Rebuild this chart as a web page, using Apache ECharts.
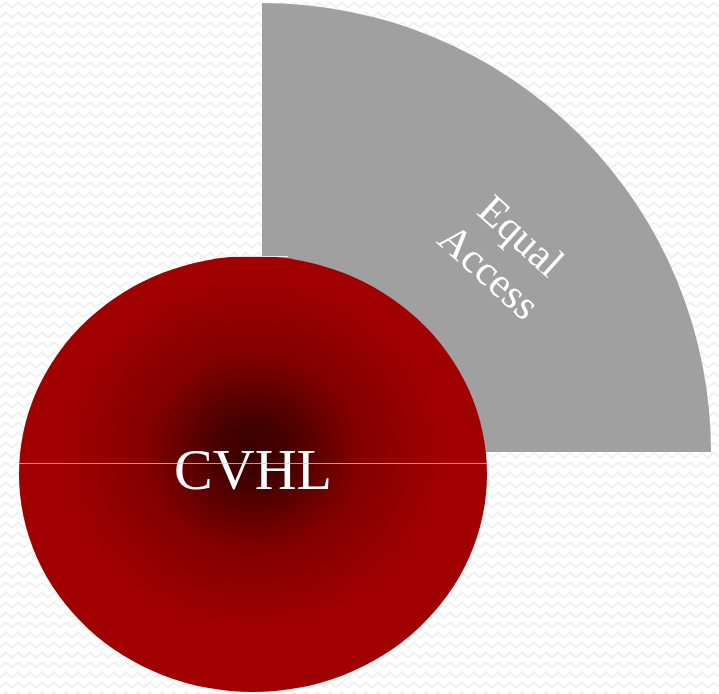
<!DOCTYPE html>
<html>
<head>
<meta charset="utf-8">
<script src="https://cdn.jsdelivr.net/npm/echarts@6/dist/echarts.min.js"></script>
<style>
  html, body { margin: 0; padding: 0; background: #fff; }
  #main { width: 719px; height: 694px; }
</style>
</head>
<body>
<div id="main"></div>
<script>
// Sector (pie) data: one visible slice, the rest left empty
const sectorNames = ["Equal Access", ""];
const sectorValues = [1, 3];

// Ellipse data: label and its centre in chart units
const ellipseNames = ["CVHL"];
const ellipseCenters = [[253, 474]];

// Build a small zigzag tile for the page background
const makeZigzag = () => {
  const tile = document.createElement("canvas");
  tile.width = 12;
  tile.height = 10;
  const ctx = tile.getContext("2d");
  ctx.fillStyle = "#ffffff";
  ctx.fillRect(0, 0, 12, 10);
  ctx.strokeStyle = "#f0f0f0";
  ctx.lineWidth = 2;
  ctx.beginPath();
  ctx.moveTo(0, 7.5);
  ctx.lineTo(6, 2.5);
  ctx.lineTo(12, 7.5);
  ctx.stroke();
  return tile;
};

const pieData = sectorNames.map((name, i) => {
  const item = { name: name, value: sectorValues[i] };
  if (i > 0) {
    item.itemStyle = { color: "transparent" };
    item.label = { show: false };
  }
  return item;
});

const ellipseData = ellipseNames.map((name, i) => ({
  name: name,
  value: ellipseCenters[i],
}));

const chartConfig = {
  backgroundColor: { image: makeZigzag(), repeat: "repeat" },
  animation: false,
  grid: { left: 0, right: 0, top: 0, bottom: 0 },
  xAxis: { type: "value", min: 0, max: 719, show: false },
  yAxis: { type: "value", min: 0, max: 694, inverse: true, show: false },
  series: [
    {
      type: "pie",
      center: [262, 452],
      radius: 449,
      startAngle: 90,
      clockwise: true,
      silent: true,
      data: pieData,
      itemStyle: { color: "#a0a0a0" },
      labelLine: { show: false },
      label: {
        show: true,
        position: "inside",
        rotate: -42,
        formatter: (info) => info.name.replace(" ", "\n"),
        color: "#ffffff",
        fontFamily: "Liberation Serif",
        fontSize: 42,
        lineHeight: 48,
      },
      // offsets are applied in the rotated label frame
      labelLayout: { dx: 36, dy: -80 },
    },
    {
      type: "scatter",
      data: ellipseData,
      symbol: "circle",
      symbolSize: [468, 436],
      silent: true,
      itemStyle: {
        opacity: 1,
        color: {
          type: "radial",
          x: 0.5,
          y: 0.45,
          r: 0.5,
          colorStops: [
            { offset: 0, color: "#380000" },
            { offset: 0.15, color: "#460000" },
            { offset: 0.45, color: "#830000" },
            { offset: 0.8, color: "#a00000" },
            { offset: 1, color: "#a00000" },
          ],
        },
      },
      label: {
        show: true,
        position: "inside",
        formatter: "{b}",
        color: "#ffffff",
        fontFamily: "Liberation Serif",
        fontSize: 58,
      },
      markLine: {
        silent: true,
        symbol: "none",
        label: { show: false },
        lineStyle: { type: "solid", width: 1, color: "rgba(255,190,190,0.75)" },
        data: [
          [{ coord: [19, 463] }, { coord: [487, 463] }],
          [
            { coord: [217, 256], lineStyle: { color: "rgba(255,240,240,0.9)" } },
            { coord: [288, 256] },
          ],
        ],
      },
    },
  ],
};

const chartContainer = document.getElementById("main");
const chart = echarts.init(chartContainer);
chart.setOption(chartConfig);
window.addEventListener("resize", () => chart.resize());
</script>
</body>
</html>
